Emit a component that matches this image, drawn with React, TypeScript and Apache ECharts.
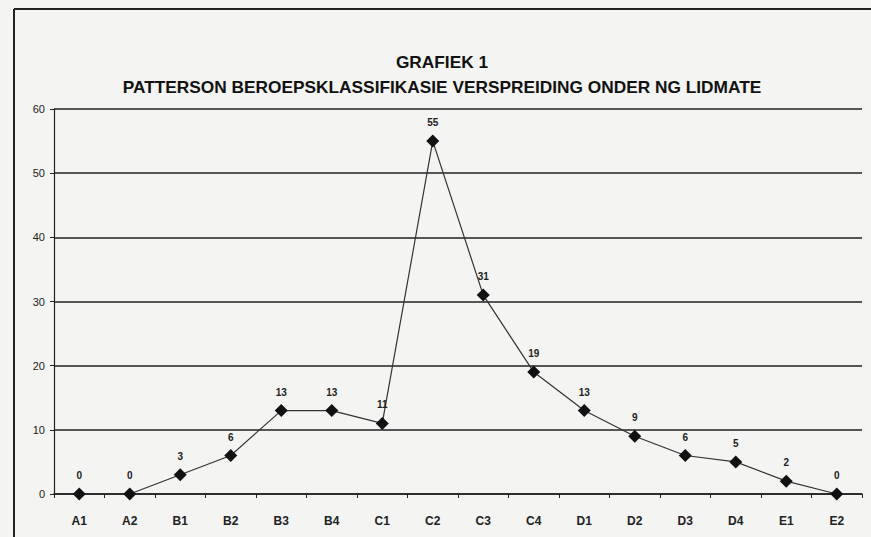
import React, { useEffect, useRef } from "react";
import * as echarts from "echarts";

const categories = ["A1", "A2", "B1", "B2", "B3", "B4", "C1", "C2", "C3", "C4", "D1", "D2", "D3", "D4", "E1", "E2"];
const values = [0, 0, 3, 6, 13, 13, 11, 55, 31, 19, 13, 9, 6, 5, 2, 0];
const titleLines = ["GRAFIEK 1", "PATTERSON BEROEPSKLASSIFIKASIE VERSPREIDING ONDER NG LIDMATE"];

export default function App() {
  const ref = useRef<HTMLDivElement>(null);
  useEffect(() => {
    if (!ref.current) return;
    const chart = echarts.init(ref.current, null, { renderer: "svg" });
    const font = "'Liberation Sans', Arial, sans-serif";
    chart.setOption({
      animation: false,
      backgroundColor: "#f4f4f2",
      textStyle: { fontFamily: font },
      title: {
        text: titleLines.join("\n"),
        left: 437,
        textAlign: "center",
        top: 44,
        textStyle: { fontSize: 17.3, fontWeight: "bold", color: "#111", lineHeight: 25, fontFamily: font },
      },
      graphic: [
        { type: "line", shape: { x1: 14, y1: 9, x2: 871, y2: 9 }, style: { stroke: "#222", lineWidth: 2 } },
        { type: "line", shape: { x1: 14, y1: 9, x2: 14, y2: 537 }, style: { stroke: "#222", lineWidth: 2 } },
      ],
      grid: { left: 54, right: 9, top: 109, bottom: 43, containLabel: false },
      xAxis: {
        type: "category",
        data: categories,
        boundaryGap: true,
        axisLine: { show: true, lineStyle: { color: "#222", width: 1.5 } },
        axisTick: { show: true, length: 4, lineStyle: { color: "#222" } },
        axisLabel: { fontSize: 12, fontWeight: "bold", color: "#222", margin: 21, fontFamily: font },
      },
      yAxis: {
        type: "value",
        min: 0,
        max: 60,
        interval: 10,
        axisLine: { show: true, lineStyle: { color: "#222", width: 1.2 } },
        axisTick: { show: true, length: 4, lineStyle: { color: "#222" } },
        axisLabel: { fontSize: 11, color: "#222", margin: 9, fontFamily: font },
        splitLine: { show: true, lineStyle: { color: "#222", width: 1.5 } },
      },
      series: [
        {
          type: "line",
          data: values,
          symbol: "diamond",
          symbolSize: 13,
          itemStyle: { color: "#111" },
          lineStyle: { color: "#333", width: 1.2 },
          label: {
            show: true,
            position: "top",
            distance: 7,
            fontSize: 10,
            fontWeight: "bold",
            color: "#222",
            fontFamily: font,
          },
        },
      ],
    });
    return () => chart.dispose();
  }, []);
  return <div ref={ref} style={{ position: "absolute", left: 0, top: 0, width: 871, height: 537 }} />;
}
